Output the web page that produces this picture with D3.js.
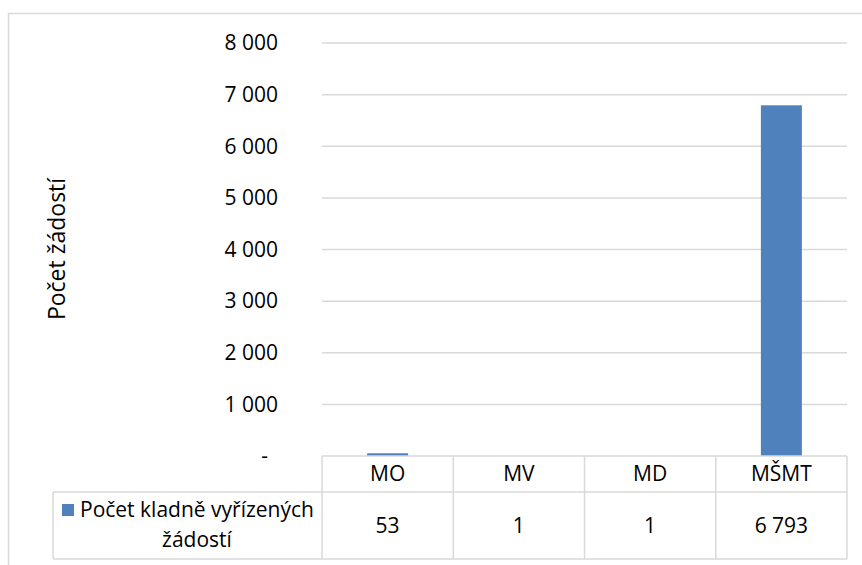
<!DOCTYPE html>
<html>
<head>
<meta charset="utf-8">
<script src="https://cdn.jsdelivr.net/npm/d3@7"></script>
<style>
  body { margin: 0; background: #fff; }
  svg text { font-family: "Open Sans", "Noto Sans", sans-serif; fill: #000; }
</style>
</head>
<body>
<div class="chart"></div>
<script>
// data
var categories = ['MO', 'MV', 'MD', 'MŠMT'];
var values = [53, 1, 1, 6793];
var seriesName = ['Počet kladně vyřízených', 'žádostí'];
var yTicks = [0, 1000, 2000, 3000, 4000, 5000, 6000, 7000, 8000];
var yTitle = 'Počet žádostí';

var W = 862, H = 565;
var fs = 21;
var grid = '#d9d9d9';
var barColor = '#4f81bd';

var svg = d3.select('.chart')
  .append('svg')
  .attr('width', W)
  .attr('height', H);

// outer frame (runs off the right and bottom edges)
svg.append('rect')
  .attr('x', 8.5).attr('y', 13.5)
  .attr('width', 900).attr('height', 600)
  .attr('fill', 'none')
  .attr('stroke', grid)
  .attr('stroke-width', 1.5);

var x = d3.scaleBand()
  .domain(categories)
  .range([322, 847]);

var y = d3.scaleLinear()
  .domain([0, 8000])
  .range([456, 43]);

var fmt = function (v) {
  return v === 0 ? '-' : d3.format(',')(v).replace(/,/g, ' ');
};

// gridlines
svg.selectAll('.grid')
  .data(yTicks.filter(d => d > 0))
  .enter().append('line')
  .attr('class', 'grid')
  .attr('x1', x.range()[0])
  .attr('x2', x.range()[1])
  .attr('y1', d => y(d))
  .attr('y2', d => y(d))
  .attr('stroke', grid)
  .attr('stroke-width', 1.5);

// y tick labels
svg.selectAll('.ytick')
  .data(yTicks)
  .enter().append('text')
  .attr('class', 'ytick')
  .attr('x', d => d === 0 ? 268 : 278)
  .attr('y', d => y(d))
  .attr('dy', '0.35em')
  .style('text-anchor', 'end')
  .style('font-size', fs + 'px')
  .text(fmt);

// y title
svg.append('text')
  .attr('transform', 'translate(65,249) rotate(-90)')
  .style('text-anchor', 'middle')
  .style('font-size', '23px')
  .text(yTitle);

// bars
var bw = 41;
svg.selectAll('.bar')
  .data(values)
  .enter().append('rect')
  .attr('class', 'bar')
  .attr('x', (d, i) => x(categories[i]) + x.bandwidth() / 2 - bw / 2)
  .attr('y', d => y(d))
  .attr('width', bw)
  .attr('height', d => y(0) - y(d))
  .attr('fill', barColor);

// data table
var tTop = 456, tMid = 492, tBot = 559, tLeft = 53;
var lines = [
  [x.range()[0], tTop, x.range()[1], tTop],
  [tLeft, tMid, x.range()[1], tMid],
  [tLeft, tBot, x.range()[1], tBot],
  [tLeft, tMid, tLeft, tBot]
];
categories.forEach(function (c) {
  lines.push([x(c), tTop, x(c), tBot]);
});
lines.push([x.range()[1], tTop, x.range()[1], tBot]);

svg.selectAll('.tline')
  .data(lines)
  .enter().append('line')
  .attr('class', 'tline')
  .attr('x1', d => d[0]).attr('y1', d => d[1])
  .attr('x2', d => d[2]).attr('y2', d => d[3])
  .attr('stroke', grid)
  .attr('stroke-width', 1.5);

svg.selectAll('.cat')
  .data(categories)
  .enter().append('text')
  .attr('class', 'cat')
  .attr('x', d => x(d) + x.bandwidth() / 2)
  .attr('y', (tTop + tMid) / 2)
  .attr('dy', '0.35em')
  .style('text-anchor', 'middle')
  .style('font-size', fs + 'px')
  .text(d => d);

svg.selectAll('.val')
  .data(values)
  .enter().append('text')
  .attr('class', 'val')
  .attr('x', (d, i) => x(categories[i]) + x.bandwidth() / 2)
  .attr('y', (tMid + tBot) / 2)
  .attr('dy', '0.35em')
  .style('text-anchor', 'middle')
  .style('font-size', fs + 'px')
  .text(fmt);

// legend key in the table
svg.append('rect')
  .attr('x', 62).attr('y', 504)
  .attr('width', 12).attr('height', 12)
  .attr('fill', barColor);

svg.selectAll('.leg')
  .data(seriesName)
  .enter().append('text')
  .attr('class', 'leg')
  .attr('x', (d, i) => i === 0 ? 80 : 197)
  .attr('y', (d, i) => 517 + i * 30)
  .style('text-anchor', (d, i) => i === 0 ? 'start' : 'middle')
  .style('font-size', fs + 'px')
  .text(d => d);
</script>
</body>
</html>
